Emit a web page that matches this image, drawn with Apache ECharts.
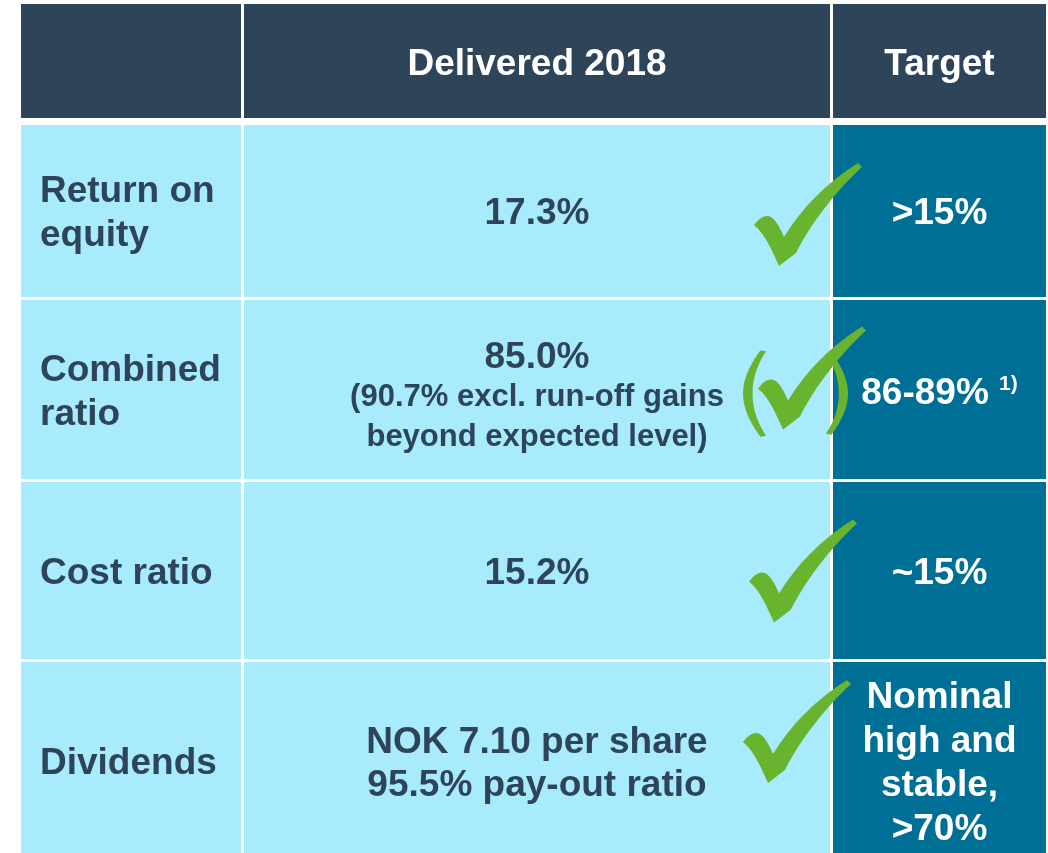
<!DOCTYPE html>
<html>
<head>
<meta charset="utf-8">
<script src="https://cdn.jsdelivr.net/npm/echarts@6/dist/echarts.min.js"></script>
<style>
  html, body { margin: 0; padding: 0; background: #fff; }
  #main { width: 1048px; height: 853px; }
</style>
</head>
<body>
<div id="main"></div>
<script>
// table content
const columns = ['', 'Delivered 2018', 'Target'];
const metrics = ['Return on\nequity', 'Combined\nratio', 'Cost ratio', 'Dividends'];
const delivered = ['17.3%', '85.0%', '15.2%', 'NOK 7.10 per share\n95.5% pay-out ratio'];
const deliveredNotes = ['', '(90.7% excl. run-off gains\nbeyond expected level)', '', ''];
const targets = ['>15%', '86-89%', '~15%', 'Nominal\nhigh and\nstable,\n>70%'];
const targetNotes = ['', '1)', '', ''];
const achieved = ['yes', 'partial', 'yes', 'yes'];

// layout (pixels, same units as the hidden axes)
const colX = [[21, 241], [244, 830], [833, 1046]];
const rowY = [[4, 118], [125, 297], [300, 479], [482, 659], [662, 860]];
const checkOffset = [[-22, 3], [-18, -12], [-27, 0], [-33, -30]];

const FONT = '"Liberation Sans", Arial, Helvetica, sans-serif';
const HEADER = '#2E4459';
const LIGHT = '#A7EBFD';
const TARGET = '#006F96';
const INK = '#2E4459';
const GREEN = '#69B42E';

const CHECK_PATH = 'M0,62 C4,57 8,53 13,53 C19,53 24,60 30,74 C48,45 72,20 104,0 L108,4 C85,25 58,58 42,90 L25,103 C18,88 12,72 0,62 Z';
const PAREN_L = 'M18,0 L24,1 C13,18 10,32 10,45 C10,58 13,72 24,89 L18,90 C5,72 0,58 0,45 C0,32 5,18 18,0 Z';
const PAREN_R = 'M6,0 L0,1 C11,18 14,32 14,45 C14,58 11,72 0,89 L6,90 C19,72 24,58 24,45 C24,32 19,18 6,0 Z';

const cells = [];
for (let r = 0; r < rowY.length; r++) {
  for (let c = 0; c < colX.length; c++) cells.push([c, r]);
}
const checks = [];
achieved.forEach(function (a, i) {
  if (a !== 'no') checks.push([i + 1, a === 'partial' ? 1 : 0]);
});

function txt(text, x, y, size, color, align, lh, extra) {
  return {
    type: 'text',
    style: Object.assign({
      text: text, x: x, y: y,
      fill: color,
      fontFamily: FONT, fontWeight: 'bold', fontSize: size,
      align: align || 'center', verticalAlign: 'middle',
      lineHeight: lh || size * 1.2
    }, extra || {})
  };
}

function renderCell(params, api) {
  const c = api.value(0), r = api.value(1);
  const p0 = api.coord([colX[c][0], rowY[r][0]]);
  const p1 = api.coord([colX[c][1], rowY[r][1]]);
  const x = p0[0], y = p0[1], w = p1[0] - p0[0], h = p1[1] - p0[1];
  const cx = x + w / 2, cy = y + h / 2;
  let fill = r === 0 ? HEADER : (c === 2 ? TARGET : LIGHT);
  const children = [{ type: 'rect', shape: { x: x, y: y, width: w, height: h }, style: { fill: fill } }];

  if (r === 0) {
    if (columns[c]) children.push(txt(columns[c], cx, cy + 4, 37, '#fff'));
  } else if (c === 0) {
    children.push(txt(metrics[r - 1], x + 19, cy + 3, 37, INK, 'left', 44));
  } else if (c === 1) {
    const note = deliveredNotes[r - 1];
    if (note) {
      children.push(txt(delivered[r - 1], cx, cy - 32, 37, INK));
      children.push(txt(note, cx, cy + 28, 31, INK, 'center', 40));
    } else {
      children.push(txt(delivered[r - 1], cx, cy + 3, 37, INK, 'center', 43));
    }
  } else {
    const note = targetNotes[r - 1];
    if (note) {
      children.push(txt('{a|' + targets[r - 1] + ' }{s|' + note + '}', cx, cy + 4, 37, '#fff', 'center', 40, {
        rich: {
          a: { fontFamily: FONT, fontWeight: 'bold', fontSize: 37, lineHeight: 40, fill: '#fff' },
          s: { fontFamily: FONT, fontWeight: 'bold', fontSize: 21, lineHeight: 26, fill: '#fff', verticalAlign: 'top' }
        }
      }));
    } else {
      children.push(txt(targets[r - 1], cx, cy + 3, 37, '#fff', 'center', 44));
    }
  }
  return { type: 'group', children: children };
}

function renderCheck(params, api) {
  const r = api.value(0), partial = api.value(1);
  const p = api.coord([colX[1][1], (rowY[r][0] + rowY[r][1]) / 2]);
  const cx = p[0] + checkOffset[r - 1][0], cy = p[1] + checkOffset[r - 1][1];
  const children = [{
    type: 'path',
    shape: { pathData: CHECK_PATH, x: cx - 54, y: cy - 51, width: 108, height: 103 },
    style: { fill: GREEN }
  }];
  if (partial) {
    children.push({
      type: 'path',
      shape: { pathData: PAREN_L, x: cx - 69, y: cy - 29, width: 23, height: 90 },
      style: { fill: GREEN }
    });
    children.push({
      type: 'path',
      shape: { pathData: PAREN_R, x: cx + 14, y: cy - 29, width: 22, height: 90 },
      style: { fill: GREEN }
    });
  }
  return { type: 'group', children: children };
}

const chart = echarts.init(document.getElementById('main'), null, { renderer: 'canvas' });
chart.setOption({
  animation: false,
  grid: { left: 0, right: 0, top: 0, bottom: 0 },
  xAxis: { type: 'value', min: 0, max: 1048, show: false },
  yAxis: { type: 'value', min: 0, max: 853, inverse: true, show: false },
  series: [
    { type: 'custom', silent: true, clip: false, renderItem: renderCell, data: cells },
    { type: 'custom', silent: true, clip: false, renderItem: renderCheck, data: checks, z: 3 }
  ]
});
</script>
</body>
</html>
